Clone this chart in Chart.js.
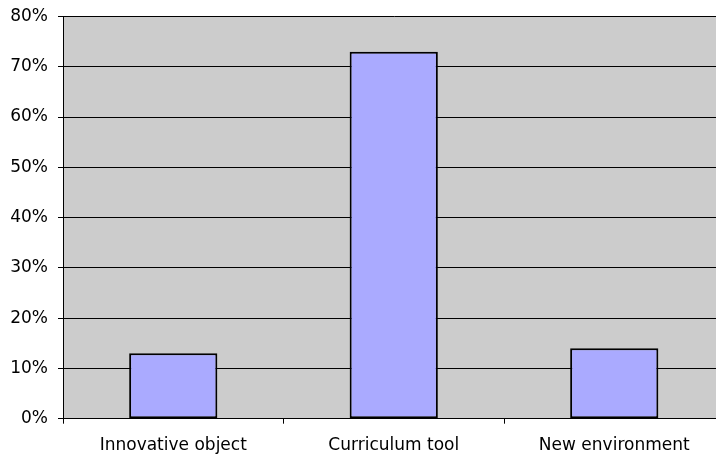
<!DOCTYPE html>
<html>
<head>
<meta charset="utf-8">
<script src="https://cdn.jsdelivr.net/npm/chart.js@4/dist/chart.umd.min.js"></script>
<style>
  html, body { margin: 0; padding: 0; background: #ffffff; overflow: hidden; }
  #wrap { position: absolute; left: 0; top: 0; width: 726px; height: 457px; }
</style>
</head>
<body>
<div id="wrap"><canvas id="c" width="726" height="457"></canvas></div>
<script>
// Categories and share of responses (percent)
const categories = ['Innovative object', 'Curriculum tool', 'New environment'];
const shares = [13, 73, 14];
const yTicks = [0, 10, 20, 30, 40, 50, 60, 70, 80];

// Grey plot-area fill behind the bars
const plotBackground = {
  id: 'plotBackground',
  beforeDraw(chart) {
    const { ctx, chartArea: a } = chart;
    ctx.save();
    ctx.fillStyle = '#cccccc';
    ctx.fillRect(a.left, a.top, a.right - a.left, a.bottom - a.top);
    ctx.restore();
  }
};

const font = { family: 'DejaVu Sans', size: 17 };

new Chart(document.getElementById('c'), {
  type: 'bar',
  data: {
    labels: categories,
    datasets: [{
      data: shares,
      backgroundColor: '#aaaaff',
      borderColor: '#000000',
      borderWidth: 2,
      borderSkipped: false,
      categoryPercentage: 1.0,
      barPercentage: 0.4
    }]
  },
  options: {
    responsive: false,
    animation: false,
    devicePixelRatio: 1,
    layout: { padding: { top: 16.5, right: 1.5, left: 0, bottom: 0 } },
    plugins: { legend: { display: false }, tooltip: { enabled: false } },
    scales: {
      x: {
        offset: true,
        grid: {
          offset: true,
          drawOnChartArea: false,
          drawTicks: true,
          tickLength: 5,
          color: '#000000'
        },
        border: { display: true, color: '#000000', width: 1 },
        ticks: { color: '#000000', font: font, padding: 12, maxRotation: 0 },
        afterFit(scale) {
          scale.height = 38.3;
          scale.paddingLeft = 0;
          scale.paddingRight = 0;
        }
      },
      y: {
        min: 0,
        max: 80,
        afterBuildTicks(scale) { scale.ticks = yTicks.map(v => ({ value: v })); },
        grid: {
          color: '#000000',
          lineWidth: 1,
          drawTicks: true,
          tickLength: 5
        },
        border: { display: true, color: '#000000', width: 1 },
        ticks: {
          color: '#000000',
          font: font,
          padding: 10,
          callback: v => v + '%'
        },
        afterFit(scale) {
          scale.width = 63;
          scale.paddingTop = 0;
          scale.paddingBottom = 0;
        }
      }
    }
  },
  plugins: [plotBackground]
});
</script>
</body>
</html>
